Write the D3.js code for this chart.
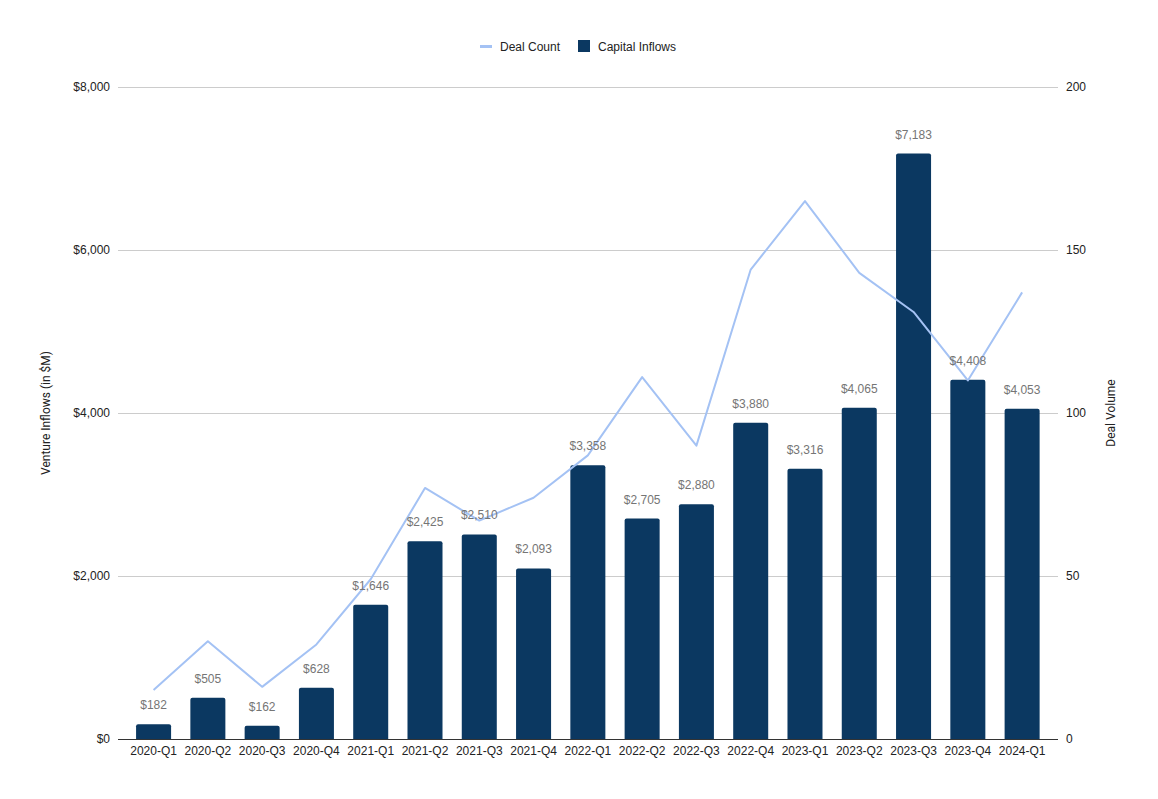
<!DOCTYPE html>
<html><head><meta charset="utf-8">
<script src="https://cdn.jsdelivr.net/npm/d3@7"></script>
<style>body{margin:0;background:#fff;font-family:"Liberation Sans",Arial,sans-serif;}</style>
</head><body><svg id="c" width="1158" height="799"></svg>
<script>
const categories = ["2020-Q1","2020-Q2","2020-Q3","2020-Q4","2021-Q1","2021-Q2","2021-Q3","2021-Q4","2022-Q1","2022-Q2","2022-Q3","2022-Q4","2023-Q1","2023-Q2","2023-Q3","2023-Q4","2024-Q1"];
const capitalInflows = [182,505,162,628,1646,2425,2510,2093,3358,2705,2880,3880,3316,4065,7183,4408,4053];
const dealCount = [15,30,16,29,49,77,67,74,87,111,90,144,165,143,131,110,137];
const leftTicks = [0,2000,4000,6000,8000];
const rightTicks = [0,50,100,150,200];

const svg = d3.select("#c");
const W = 1158, H = 799;
const plot = {l:118, r:1058, t:87, b:739};
const x = d3.scaleBand().domain(categories).range([126.3, 1049.4]).paddingInner(0.355).paddingOuter(0.18);
const yL = d3.scaleLinear().domain([0,8000]).range([plot.b, plot.t]);
const yR = d3.scaleLinear().domain([0,200]).range([plot.b, plot.t]);
const fmt = d3.format(",");

// gridlines
svg.append("g").selectAll("line").data(leftTicks.slice(1)).join("line")
  .attr("x1", plot.l).attr("x2", plot.r)
  .attr("y1", d=>yL(d)+0.5).attr("y2", d=>yL(d)+0.5)
  .attr("stroke","#cccccc").attr("stroke-width",1);

// left axis labels
const la = d3.axisLeft(yL).tickValues(leftTicks).tickFormat(d=>"$"+fmt(d)).tickSize(0).tickPadding(8);
const gL = svg.append("g").attr("transform",`translate(${plot.l},0)`).call(la);
gL.select(".domain").remove();
gL.selectAll("text").attr("font-size",12).attr("fill","#222").attr("font-family","'Liberation Sans',Arial,sans-serif");

const ra = d3.axisRight(yR).tickValues(rightTicks).tickSize(0).tickPadding(8);
const gR = svg.append("g").attr("transform",`translate(${plot.r},0)`).call(ra);
gR.select(".domain").remove();
gR.selectAll("text").attr("font-size",12).attr("fill","#222").attr("font-family","'Liberation Sans',Arial,sans-serif");

// bars
svg.append("g").selectAll("path").data(capitalInflows).join("path")
  .attr("fill","#0b3861")
  .attr("d",(d,i)=>{
    const x0 = x(categories[i]), w = x.bandwidth(), y0 = yL(d), y1 = yL(0), r = 2;
    return `M${x0},${y1}V${y0+r}Q${x0},${y0} ${x0+r},${y0}H${x0+w-r}Q${x0+w},${y0} ${x0+w},${y0+r}V${y1}Z`;
  });

// baseline
svg.append("line").attr("x1",plot.l).attr("x2",plot.r).attr("y1",plot.b+0.5).attr("y2",plot.b+0.5)
  .attr("stroke","#333").attr("stroke-width",1);

// x axis
const xa = d3.axisBottom(x).tickSize(0).tickPadding(7);
const gX = svg.append("g").attr("transform",`translate(0,${plot.b})`).call(xa);
gX.select(".domain").remove();
gX.selectAll("text").attr("font-size",12).attr("fill","#222").attr("font-family","'Liberation Sans',Arial,sans-serif");

// line
const line = d3.line().x((d,i)=>x(categories[i])+x.bandwidth()/2).y(d=>yR(d));
svg.append("path").datum(dealCount).attr("d",line).attr("fill","none")
  .attr("stroke","#a4c2f4").attr("stroke-width",2).attr("stroke-linejoin","round");

// value labels
svg.append("g").selectAll("text").data(capitalInflows).join("text")
  .attr("x",(d,i)=>x(categories[i])+x.bandwidth()/2)
  .attr("y",d=>yL(d)-15)
  .attr("text-anchor","middle").attr("font-size",12).attr("fill","#757575")
  .text(d=>"$"+fmt(d));

// axis titles
svg.append("text").attr("transform",`translate(50,${(plot.t+plot.b)/2}) rotate(-90)`)
  .attr("text-anchor","middle").attr("font-size",12).attr("fill","#222")
  .attr("font-family","Roboto,'Liberation Sans',sans-serif")
  .text("Venture Inflows (in $M)");
svg.append("text").attr("transform",`translate(1115,${(plot.t+plot.b)/2}) rotate(-90)`)
  .attr("text-anchor","middle").attr("font-size",12).attr("fill","#222")
  .attr("font-family","Roboto,'Liberation Sans',sans-serif")
  .text("Deal Volume");

// legend
const lg = svg.append("g");
lg.append("line").attr("x1",480).attr("x2",492).attr("y1",46.5).attr("y2",46.5).attr("stroke","#a4c2f4").attr("stroke-width",3);
lg.append("text").attr("x",500).attr("y",51).attr("font-size",12).attr("fill","#222").text("Deal Count");
lg.append("rect").attr("x",578).attr("y",40).attr("width",12).attr("height",12).attr("fill","#0b3861");
lg.append("text").attr("x",598).attr("y",51).attr("font-size",12).attr("fill","#222").text("Capital Inflows");
</script></body></html>
